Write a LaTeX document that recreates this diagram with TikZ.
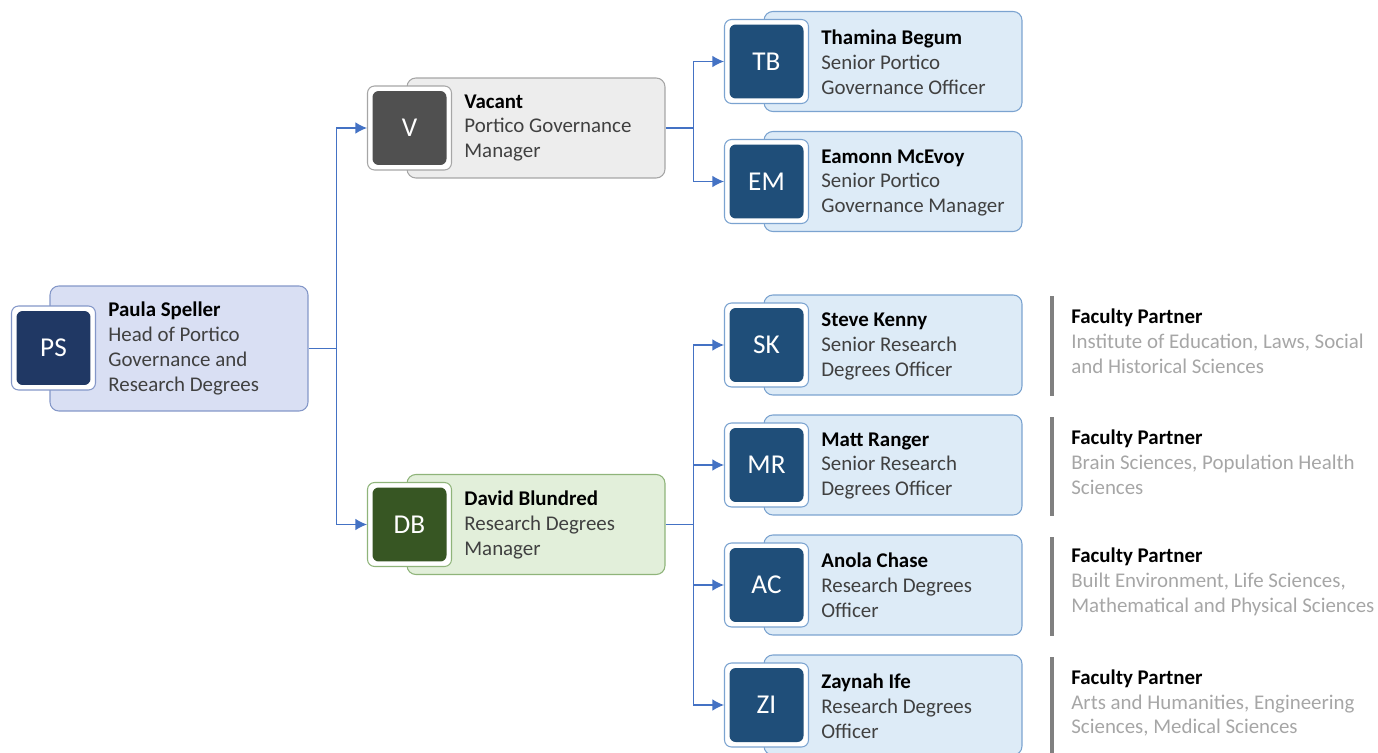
\documentclass[tikz,border=0pt]{standalone}
\usepackage{fontspec}
\setmainfont{Carlito}
\usepackage{xcolor}
\usetikzlibrary{arrows.meta,positioning}
\definecolor{linkblue}{HTML}{4472C4}
\definecolor{headfill}{HTML}{D9DFF3}
\definecolor{headline}{HTML}{8497C8}
\definecolor{headdark}{HTML}{203864}
\definecolor{vacfill}{HTML}{EDEDED}
\definecolor{vacline}{HTML}{A6A6A6}
\definecolor{vacdark}{HTML}{505050}
\definecolor{rdfill}{HTML}{E2EFDA}
\definecolor{rdline}{HTML}{8FB47A}
\definecolor{rddark}{HTML}{375623}
\definecolor{stafffill}{HTML}{DDEBF7}
\definecolor{staffline}{HTML}{7BA3D0}
\definecolor{staffdark}{HTML}{1F4E79}
\definecolor{roletext}{HTML}{404040}
\definecolor{facgray}{HTML}{A6A6A6}
\definecolor{bargray}{HTML}{808080}
\newcommand{\who}[2]{\textbf{\color{black}#1}\\#2}

\begin{document}
\begin{tikzpicture}[x=0.02cm,y=-0.02cm]
  \tikzset{
    card/.style={rounded corners=5pt,line width=0.6pt,minimum width=5.16cm,minimum height=2cm},
    staff/.style={card,draw=staffline,fill=stafffill},
    frame/.style={rounded corners=4pt,line width=0.6pt,fill=white,minimum size=1.68cm},
    badge/.style={rounded corners=3.5pt,minimum size=1.48cm,text=white,font=\fontsize{15.5}{18}\selectfont},
    info/.style={anchor=west,align=left,inner sep=0pt,text=roletext,font=\fontsize{11.9}{14.2}\selectfont},
    note/.style={anchor=west,align=left,inner sep=0pt,text=facgray,font=\fontsize{11.9}{14.2}\selectfont},
    link/.style={draw=linkblue,line width=0.7pt},
    arrow/.style={link,-{Latex[length=2.3mm,width=2.3mm]}},
    bar/.style={draw=bargray,line width=2.4pt}
  }
  \useasboundingbox (0,0) rectangle (1378,753);
  % head
  \node[card,draw=headline,fill=headfill,minimum height=2.5cm] (ps) at (179,348.5) {};
  \node[frame,draw=headline] (ps-pic) at (53.5,348) {};
  \node[badge,fill=headdark] (ps-in) at (ps-pic) {PS};
  \node[info] (ps-txt) at (108,348.5) {\who{Paula Speller}{Head of Portico\\Governance and\\Research Degrees}};
  % managers
  \node[card,draw=vacline,fill=vacfill] (v) at (536,128) {};
  \node[frame,draw=vacline] (v-pic) at (409.5,128) {};
  \node[badge,fill=vacdark] (v-in) at (v-pic) {V};
  \node[info] (v-txt) at (464,128) {\who{Vacant}{Portico Governance\\Manager}};
  \node[card,draw=rdline,fill=rdfill] (db) at (536,524.5) {};
  \node[frame,draw=rdline] (db-pic) at (409.5,524.5) {};
  \node[badge,fill=rddark] (db-in) at (db-pic) {DB};
  \node[info] (db-txt) at (464,525) {\who{David Blundred}{Research Degrees\\Manager}};
  % officers
  \node[staff] (tb) at (893,61.5) {};
  \node[frame,draw=staffline] (tb-pic) at (766.5,61.5) {};
  \node[badge,fill=staffdark] (tb-in) at (tb-pic) {TB};
  \node[info] (tb-txt) at (821,62) {\who{Thamina Begum}{Senior Portico\\Governance Officer}};
  \node[staff] (em) at (893,181.5) {};
  \node[frame,draw=staffline] (em-pic) at (766.5,181.5) {};
  \node[badge,fill=staffdark] (em-in) at (em-pic) {EM};
  \node[info] (em-txt) at (821,183) {\who{Eamonn McEvoy}{Senior Portico\\Governance Manager}};
  \node[staff] (sk) at (893,345) {};
  \node[frame,draw=staffline] (sk-pic) at (766.5,345) {};
  \node[badge,fill=staffdark] (sk-in) at (sk-pic) {SK};
  \node[info] (sk-txt) at (821,346) {\who{Steve Kenny}{Senior Research\\Degrees Officer}};
  \node[staff] (mr) at (893,465) {};
  \node[frame,draw=staffline] (mr-pic) at (766.5,465) {};
  \node[badge,fill=staffdark] (mr-in) at (mr-pic) {MR};
  \node[info] (mr-txt) at (821,466) {\who{Matt Ranger}{Senior Research\\Degrees Officer}};
  \node[staff] (ac) at (893,585) {};
  \node[frame,draw=staffline] (ac-pic) at (766.5,585) {};
  \node[badge,fill=staffdark] (ac-in) at (ac-pic) {AC};
  \node[info] (ac-txt) at (821,585) {\who{Anola Chase}{Research Degrees\\Officer}};
  \node[staff] (zi) at (893,705) {};
  \node[frame,draw=staffline] (zi-pic) at (766.5,705) {};
  \node[badge,fill=staffdark] (zi-in) at (zi-pic) {ZI};
  \node[info] (zi-txt) at (821,706) {\who{Zaynah Ife}{Research Degrees\\Officer}};
  % faculty partners
  \draw[bar] (1052,296) -- (1052,396);
  \node[note] (sk-fp) at (1071,341) {\who{Faculty Partner}{Institute of Education, Laws, Social\\and Historical Sciences}};
  \draw[bar] (1052,417) -- (1052,516);
  \node[note] (mr-fp) at (1071,462) {\who{Faculty Partner}{Brain Sciences, Population Health\\Sciences}};
  \draw[bar] (1052,537) -- (1052,636);
  \node[note] (ac-fp) at (1071,582) {\who{Faculty Partner}{Built Environment, Life Sciences,\\Mathematical and Physical Sciences}};
  \draw[bar] (1052,657) -- (1052,753);
  \node[note] (zi-fp) at (1071,703) {\who{Faculty Partner}{Arts and Humanities, Engineering\\Sciences, Medical Sciences}};
  % connectors
  \draw[link] (ps.east) -- ++(28,0) coordinate (ps-j);
  \draw[arrow] (ps-j) |- (v-pic.west);
  \draw[arrow] (ps-j) |- (db-pic.west);
  \draw[link] (v.east) -- ++(28,0) coordinate (v-j);
  \draw[arrow] (v-j) |- (tb-pic.west);
  \draw[arrow] (v-j) |- (em-pic.west);
  \draw[link] (db.east) -- ++(28,0) coordinate (db-j);
  \draw[arrow] (db-j) |- (sk-pic.west);
  \draw[arrow] (db-j) |- (mr-pic.west);
  \draw[arrow] (db-j) |- (ac-pic.west);
  \draw[arrow] (db-j) |- (zi-pic.west);
\end{tikzpicture}
\end{document}
